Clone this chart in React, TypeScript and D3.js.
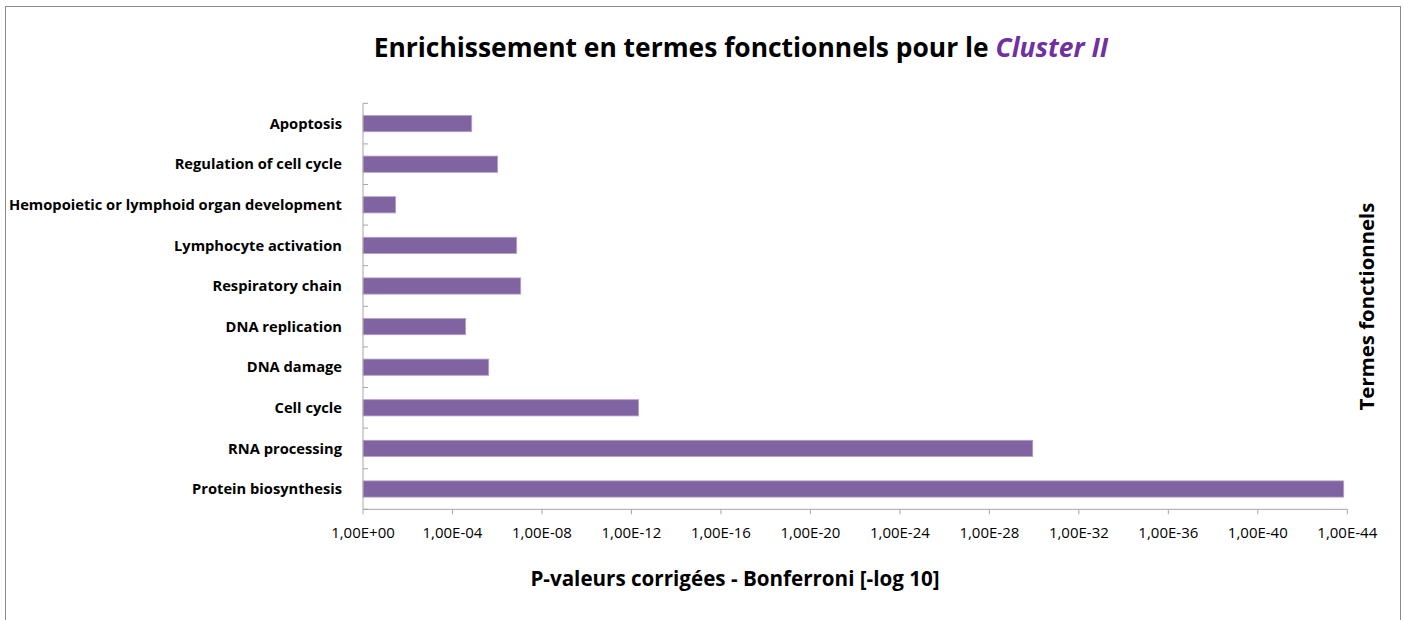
import React from "react";
import * as d3 from "d3";

const categories = [
  "Apoptosis",
  "Regulation of cell cycle",
  "Hemopoietic or lymphoid organ development",
  "Lymphocyte activation",
  "Respiratory chain",
  "DNA replication",
  "DNA damage",
  "Cell cycle",
  "RNA processing",
  "Protein biosynthesis",
];
const values = [4.86, 6.02, 1.46, 6.87, 7.05, 4.59, 5.62, 12.32, 29.94, 43.84];
const xTicks = [0, 4, 8, 12, 16, 20, 24, 28, 32, 36, 40, 44];
const xTickLabels = [
  "1,00E+00", "1,00E-04", "1,00E-08", "1,00E-12", "1,00E-16", "1,00E-20",
  "1,00E-24", "1,00E-28", "1,00E-32", "1,00E-36", "1,00E-40", "1,00E-44",
];

const W = 1404;
const H = 620;
const FONT = "'Open Sans', Lato, sans-serif";

export default function App() {
  const left = 363;
  const right = 1347.3;
  const top = 103.3;
  const bottom = 509.3;

  const x = d3.scaleLinear().domain([0, 44]).range([left, right]);
  const y = d3.scaleBand().domain(categories).range([top, bottom]).paddingInner(0.6).paddingOuter(0.3);
  const band = (bottom - top) / categories.length;

  const axisColor = "#a6a6a6";

  return (
    <svg width={W} height={H} style={{ position: "absolute", left: 0, top: 0 }} fontFamily={FONT}>
      <rect x={0} y={0} width={W} height={H} fill="#ffffff" />
      <rect x={5.5} y={6.5} width={1395} height={640} fill="#ffffff" stroke="#8c8c8c" strokeWidth={1} />

      <text x={741} y={57} textAnchor="middle" fontSize={26.4} fontWeight="bold" fill="#000">
        Enrichissement en termes fonctionnels pour le{" "}
        <tspan fill="#7030a0" fontStyle="italic">Cluster II</tspan>
      </text>

      {/* bars */}
      {categories.map((c, i) => (
        <rect
          key={c}
          x={x(0)}
          y={y(c)!}
          width={x(values[i]) - x(0)}
          height={y.bandwidth()}
          fill="#8064a2"
          stroke="#b3a2c7"
          strokeWidth={0.8}
        />
      ))}

      {/* y axis */}
      <line x1={left} x2={left} y1={top} y2={bottom} stroke={axisColor} strokeWidth={1} />
      {d3.range(categories.length + 1).map((k) => (
        <line
          key={k}
          x1={left}
          x2={left + 5}
          y1={top + k * band}
          y2={top + k * band}
          stroke={axisColor}
          strokeWidth={1}
        />
      ))}
      {categories.map((c) => (
        <text
          key={c}
          x={342}
          y={y(c)! + y.bandwidth() / 2}
          dy="0.35em"
          textAnchor="end"
          fontSize={14.7}
          fontWeight="bold"
          fill="#000"
        >
          {c}
        </text>
      ))}

      {/* x axis */}
      <line x1={left} x2={right} y1={bottom} y2={bottom} stroke={axisColor} strokeWidth={1} />
      {xTicks.map((t, i) => (
        <g key={t}>
          <line x1={x(t)} x2={x(t)} y1={bottom} y2={bottom + 5} stroke={axisColor} strokeWidth={1} />
          <text x={x(t)} y={538} textAnchor="middle" fontSize={15} fill="#000">
            {xTickLabels[i]}
          </text>
        </g>
      ))}

      <text x={735} y={586} textAnchor="middle" fontSize={20.6} fontWeight="bold" fill="#000">
        P-valeurs corrigées - Bonferroni [-log 10]
      </text>

      <text
        transform={`translate(1374, 306.5) rotate(-90)`}
        textAnchor="middle"
        fontSize={20.4}
        fontWeight="bold"
        fill="#000"
      >
        Termes fonctionnels
      </text>
    </svg>
  );
}
